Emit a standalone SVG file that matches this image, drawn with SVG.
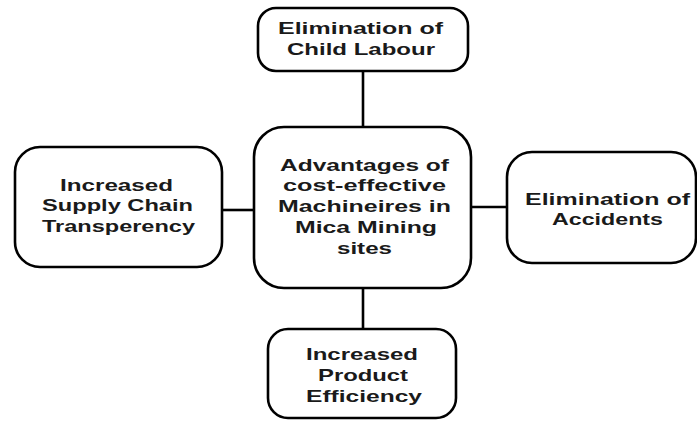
<svg xmlns="http://www.w3.org/2000/svg" width="697" height="421" viewBox="0 0 697 421">
<style>
.box{fill:#fff;stroke:#000;stroke-width:2.6}
.t{font-family:"Liberation Sans",Arial,sans-serif;font-weight:bold;font-size:17px;fill:#1a1a1a;text-anchor:start}
.c{stroke:#000;stroke-width:2.6;fill:none}
</style>
<rect width="697" height="421" fill="#fff"/>
<g id="connectors">
<line class="c" x1="363" y1="71" x2="363" y2="127"/>
<line class="c" x1="222" y1="210" x2="254" y2="210"/>
<line class="c" x1="471" y1="207" x2="507" y2="207"/>
<line class="c" x1="363" y1="288" x2="363" y2="329"/>
</g>
<g id="top">
<rect class="box" x="258" y="8" width="210" height="63" rx="18"/>
<text class="t" x="278" y="34" textLength="165" lengthAdjust="spacingAndGlyphs">Elimination of</text>
<text class="t" x="287" y="55" textLength="148" lengthAdjust="spacingAndGlyphs">Child Labour</text>
</g>
<g id="center">
<rect class="box" x="254" y="127" width="217" height="161" rx="30"/>
<text class="t" x="280" y="171" textLength="169" lengthAdjust="spacingAndGlyphs">Advantages of</text>
<text class="t" x="283" y="191" textLength="163" lengthAdjust="spacingAndGlyphs">cost-effective</text>
<text class="t" x="278" y="212" textLength="173" lengthAdjust="spacingAndGlyphs">Machineires in</text>
<text class="t" x="295" y="233" textLength="142" lengthAdjust="spacingAndGlyphs">Mica Mining</text>
<text class="t" x="337" y="254" textLength="55" lengthAdjust="spacingAndGlyphs">sites</text>
</g>
<g id="left">
<rect class="box" x="15" y="147" width="207" height="120" rx="25"/>
<text class="t" x="60" y="191" textLength="113" lengthAdjust="spacingAndGlyphs">Increased</text>
<text class="t" x="42" y="211" textLength="151" lengthAdjust="spacingAndGlyphs">Supply Chain</text>
<text class="t" x="42" y="232" textLength="153" lengthAdjust="spacingAndGlyphs">Transperency</text>
</g>
<g id="right">
<rect class="box" x="507" y="152" width="189" height="111" rx="25"/>
<text class="t" x="525" y="205" textLength="165" lengthAdjust="spacingAndGlyphs">Elimination of</text>
<text class="t" x="552" y="225" textLength="111" lengthAdjust="spacingAndGlyphs">Accidents</text>
</g>
<g id="bottom">
<rect class="box" x="268" y="329" width="188" height="89" rx="20"/>
<text class="t" x="306" y="360" textLength="112" lengthAdjust="spacingAndGlyphs">Increased</text>
<text class="t" x="318" y="381" textLength="90" lengthAdjust="spacingAndGlyphs">Product</text>
<text class="t" x="306" y="402" textLength="116" lengthAdjust="spacingAndGlyphs">Efficiency</text>
</g>
</svg>
